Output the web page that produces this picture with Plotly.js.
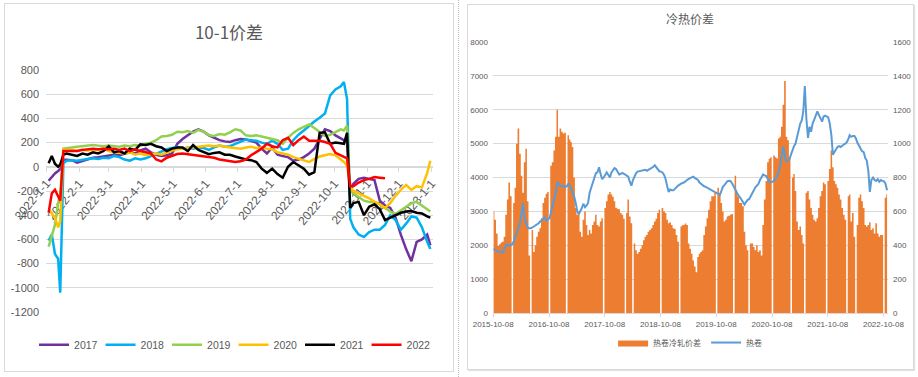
<!DOCTYPE html>
<html><head><meta charset="utf-8">
<script src="https://cdn.plot.ly/plotly-3.0.1.min.js"></script>
<style>
html,body{margin:0;padding:0;background:#fff;width:918px;height:377px;overflow:hidden;}
#p1{position:absolute;left:4px;top:3px;width:450px;height:369px;box-sizing:border-box;border:1px solid #d9d9d9;}
#p2{position:absolute;left:467px;top:4px;width:447px;height:366px;box-sizing:border-box;border:1px solid #d9d9d9;box-shadow:1px 1px 1px #e3e3e3;}
#sep{position:absolute;left:458px;top:0;width:0;height:377px;border-left:1px dotted #bdbdbd;}
#c1{position:absolute;left:0;top:0;width:448px;height:367px;}
#c2{position:absolute;left:0;top:0;width:445px;height:364px;}
</style></head><body>
<div id="p1"><div id="c1"></div></div>
<div id="sep"></div>
<div id="p2"><div id="c2"></div></div>
<script>
// ---------- Left chart: 10-1价差 ----------
const spreadDates = ["2022-01-03","2022-01-06","2022-01-09","2022-01-12","2022-01-14","2022-01-17","2022-01-20","2022-01-25","2022-01-30","2022-02-04","2022-02-09","2022-02-14","2022-02-19","2022-02-24","2022-03-01","2022-03-06","2022-03-11","2022-03-16","2022-03-21","2022-03-26","2022-03-31","2022-04-05","2022-04-10","2022-04-15","2022-04-20","2022-04-25","2022-04-30","2022-05-05","2022-05-10","2022-05-15","2022-05-20","2022-05-25","2022-05-30","2022-06-04","2022-06-09","2022-06-14","2022-06-19","2022-06-24","2022-06-29","2022-07-04","2022-07-09","2022-07-14","2022-07-19","2022-07-24","2022-07-29","2022-08-03","2022-08-08","2022-08-13","2022-08-18","2022-08-23","2022-08-28","2022-09-02","2022-09-07","2022-09-12","2022-09-17","2022-09-22","2022-09-27","2022-10-02","2022-10-07","2022-10-10","2022-10-13","2022-10-16","2022-10-19","2022-10-24","2022-10-29","2022-11-03","2022-11-08","2022-11-13","2022-11-18","2022-11-23","2022-11-28","2022-12-03","2022-12-08","2022-12-13","2022-12-18","2022-12-23","2022-12-28","2022-12-31"];
const s2017 = [-115,-85,-55,-35,-20,60,60,55,35, 50,65,75,80,85, 90,100,95,110,120,110,135, 150,120,100,90,95,110, 190,230,260,290,310,290, 260,240,220,210,205,220, 230,225,215,200,150,110, 160,100,90,80,50,60, 80,110,150,230,310,295, 260,235,220,195,-190,-140,-100,-90, -100,-110,-280,-320,-340,-420, -560,-680,-780,-620,-600,-560,-650];
const s2018 = [-610,-560,-720,-760,-1040,30,50,55,50, 60,65,70,65,75, 70,90,80,60,50,70,60, 70,90,110,130,145,155, 165,150,160,150,160,155, 140,160,175,165,170,190, 205,225,220,215,200,190, 215,190,140,150,220,265, 300,340,375,405,440,590, 640,665,700,560,-430,-500,-560,-580, -540,-520,-520,-480,-400,-440, -520,-470,-410,-420,-500,-620,-680];
const s2019 = [-660,-560,-480,-300,-230,150,155,160,165, 170,175,180,175,170, 175,170,165,175,170,180,175, 190,200,220,250,255,265, 290,285,295,280,305,290, 260,255,270,265,285,310, 300,260,255,260,250,240, 230,220,190,240,280,310, 330,350,320,290,255,265, 290,310,300,340,-200,-220,-250,-280, -290,-290,-310,-340,-370,-390, -360,-330,-300,-290,-320,-350,-370];
const s2020 = [-350,-390,-420,-500,-450,150,130,140,130, 140,135,145,140,150, 130,120,115,110,120,100,110, 95,105,110,100,120,135, 145,150,155,160,165,170, 175,170,175,165,160,150, 150,160,165,155,160,150, 145,120,110,100,80,65, 50,40,65,85,95,105, 95,60,40,10,-170,-200,-220,-240, -260,-290,-310,-340,-300,-240, -190,-150,-190,-160,-170,-50,50];
const s2021 = [30,90,25,0,20,100,110,100,90, 110,100,120,110,130, 170,120,130,110,150,140,185, 180,190,170,160,130,150, 160,160,130,180,140,120, 105,115,120,100,100,85, 70,60,55,40,-15,-50, -15,-60,-90,0,40,15, -15,-65,-45,280,285,190, 200,195,190,280,-340,-300,-290,-400, -330,-310,-350,-440,-420,-400, -380,-370,-365,-380,-385,-410,-420];
const s2022 = [-380,-220,-190,-240,-280,130,130,135,130, 140,145,150,145,150, 145,150,140,150,130,145,130, 120,110,60,45,75,90, 105,110,105,100,95,90, 85,75,60,55,45,40, 45,60,95,120,150,190, 170,160,220,240,180,220, 250,215,215,215,205,190, 115,95,85,70,-160,-160,-130,-110, -100,-85,-90,-95,null,null, null,null,null,null,null,null,null];
const seriesNames = ["2017","2018","2019","2020","2021","2022"];
const seriesColors = ["#7030A0","#00B0F0","#92D050","#FFC000","#000000","#FF0000"];
const yTickLabels1 = ["-1200","-1000","-800","-600","-400","-200","0","200","400","600","800"];

// ---------- Right chart: 冷热价差 ----------
const hrDates = [
"2015-10-11","2015-10-21","2015-11-01","2015-11-11","2015-11-21","2015-12-01","2015-12-11","2015-12-21",
"2016-01-01","2016-01-11","2016-01-21","2016-02-01","2016-02-11","2016-02-21","2016-03-01","2016-03-11","2016-03-21","2016-04-01","2016-04-11","2016-04-21","2016-05-01","2016-05-11","2016-05-21","2016-06-01","2016-06-11","2016-06-21","2016-07-01","2016-07-11","2016-07-21","2016-08-01","2016-08-11","2016-08-21","2016-09-01","2016-09-11","2016-09-21","2016-10-01","2016-10-11","2016-10-21","2016-11-01","2016-11-11","2016-11-21","2016-12-01","2016-12-11","2016-12-21",
"2017-01-01","2017-01-11","2017-01-21","2017-02-01","2017-02-11","2017-02-21","2017-03-01","2017-03-11","2017-03-21","2017-04-01","2017-04-11","2017-04-21","2017-05-01","2017-05-11","2017-05-21","2017-06-01","2017-06-11","2017-06-21","2017-07-01","2017-07-11","2017-07-21","2017-08-01","2017-08-11","2017-08-21","2017-09-01","2017-09-11","2017-09-21","2017-10-01","2017-10-11","2017-10-21","2017-11-01","2017-11-11","2017-11-21","2017-12-01","2017-12-11","2017-12-21",
"2018-01-01","2018-01-11","2018-01-21","2018-02-01","2018-02-11","2018-02-21","2018-03-01","2018-03-11","2018-03-21","2018-04-01","2018-04-11","2018-04-21","2018-05-01","2018-05-11","2018-05-21","2018-06-01","2018-06-11","2018-06-21","2018-07-01","2018-07-11","2018-07-21","2018-08-01","2018-08-11","2018-08-21","2018-09-01","2018-09-11","2018-09-21","2018-10-01","2018-10-11","2018-10-21","2018-11-01","2018-11-11","2018-11-21","2018-12-01","2018-12-11","2018-12-21",
"2019-01-01","2019-01-11","2019-01-21","2019-02-01","2019-02-11","2019-02-21","2019-03-01","2019-03-11","2019-03-21","2019-04-01","2019-04-11","2019-04-21","2019-05-01","2019-05-11","2019-05-21","2019-06-01","2019-06-11","2019-06-21","2019-07-01","2019-07-11","2019-07-21","2019-08-01","2019-08-11","2019-08-21","2019-09-01","2019-09-11","2019-09-21","2019-10-01","2019-10-11","2019-10-21","2019-11-01","2019-11-11","2019-11-21","2019-12-01","2019-12-11","2019-12-21",
"2020-01-01","2020-01-11","2020-01-21","2020-02-01","2020-02-11","2020-02-21","2020-03-01","2020-03-11","2020-03-21","2020-04-01","2020-04-11","2020-04-21","2020-05-01","2020-05-11","2020-05-21","2020-06-01","2020-06-11","2020-06-21","2020-07-01","2020-07-11","2020-07-21","2020-08-01","2020-08-11","2020-08-21","2020-09-01","2020-09-11","2020-09-21","2020-10-01","2020-10-11","2020-10-21","2020-11-01","2020-11-11","2020-11-21","2020-12-01","2020-12-11","2020-12-21",
"2021-01-01","2021-01-11","2021-01-21","2021-02-01","2021-02-11","2021-02-21","2021-03-01","2021-03-11","2021-03-21","2021-04-01","2021-04-11","2021-04-21","2021-05-01","2021-05-11","2021-05-21","2021-06-01","2021-06-11","2021-06-21","2021-07-01","2021-07-11","2021-07-21","2021-08-01","2021-08-11","2021-08-21","2021-09-01","2021-09-11","2021-09-21","2021-10-01","2021-10-11","2021-10-21","2021-11-01","2021-11-11","2021-11-21","2021-12-01","2021-12-11","2021-12-21",
"2022-01-01","2022-01-11","2022-01-21","2022-02-01","2022-02-11","2022-02-21","2022-03-01","2022-03-11","2022-03-21","2022-04-01","2022-04-11","2022-04-21","2022-05-01","2022-05-11","2022-05-21","2022-06-01","2022-06-11","2022-06-21","2022-07-01","2022-07-11","2022-07-21","2022-08-01","2022-08-11","2022-08-21","2022-09-01","2022-09-11","2022-09-21","2022-10-01","2022-10-11","2022-10-21","2022-11-01"];
// 热卷冷轧价差 (left axis)
const gap2015 = [3000,2750,2350,1980,2030,2080,2100,2250];
const gap2016 = [2900,3350,3850,3450,0,3250,3700,5000,5450,4700,4050,3550,4450,4850,3300,1700,0,2450,1800,2000,2250,2400,2500,2800,3250,3400,3520,3570,0,4350,4450,4800,5200,6000,5200,5450];
const gap2017 = [5350,5300,5320,0,5250,5120,5050,4900,4000,3100,2900,2950,2400,2250,2750,3000,2600,2300,2450,2350,2600,2700,2900,2600,2550,2700,2800,0,3100,3300,3500,3570,3500,3430,3300,3110];
const gap2018 = [3080,3060,2950,2900,2780,0,2950,3350,2850,2650,0,2050,1850,1750,1800,1900,2000,2150,2250,2300,2400,2450,2500,2600,2700,2780,2950,3050,0,3100,3000,2950,2750,2650,2680,2600];
const gap2019 = [2500,2480,2300,2100,0,2550,2590,2600,2640,2600,2050,1900,1750,1550,1370,1200,1650,1750,1800,1850,2300,2550,2800,3050,3300,3450,3450,3550,0,3700,3500,3250,3000,2700,2750,2850];
const gap2020 = [2870,2900,2920,0,4050,3550,3430,3250,3245,3150,2400,2000,1850,0,2050,2050,1950,1850,2000,1800,1850,1700,2600,3350,3900,4450,4550,4600,0,4650,4600,4560,5150,5200,5500,6150];
const gap2021 = [6850,5200,5100,4600,0,4000,4100,3600,2700,2450,2550,2300,2050,0,3550,3600,3350,3100,2900,2750,2700,2800,3100,3450,3600,3850,3800,0,3900,4250,4800,4300,3900,3800,3700,3500];
const gap2022 = [3350,3100,2900,2750,0,3450,3500,2700,2950,2250,0,2600,3400,3500,3300,3100,2600,2550,2600,2680,2450,2500,2350,2650,2350,2250,2300,2300,0,3400,3500];
// 热卷 (right axis)
const hot2015 = [378,372,368,362,362,358,357,380];
const hot2016 = [405,400,397,402,406,425,450,470,495,530,590,650,556,525,505,500,500,505,510,515,520,530,540,548,558,565,545,556,560,593,630,668,710,770,765,752];
const hot2017 = [748,750,745,748,762,755,735,720,690,650,600,585,600,620,645,625,635,650,710,740,770,800,825,830,860,820,790,800,820,830,815,800,830,845,855,850];
const hot2018 = [835,818,822,827,822,815,812,805,775,752,785,808,825,835,837,840,842,846,846,840,845,850,855,862,872,860,848,837,835,830,815,790,750,715,730,724];
const hot2019 = [724,735,745,752,758,765,768,770,775,785,792,795,800,805,798,792,785,770,762,755,748,745,740,735,730,726,720,716,712,705,698,720,745,755,770,778];
const hot2020 = [780,778,765,745,725,705,696,685,668,650,640,655,668,672,690,715,730,742,752,762,785,805,818,812,808,790,775,771,775,780,795,810,835,870,930,985];
const hot2021 = [920,895,900,912,940,968,985,1000,1045,1080,1118,1137,1190,1340,1150,1034,1100,1070,1118,1140,1165,1190,1170,1150,1130,1160,1165,1160,1156,1120,1050,935,955,965,980,985];
const hot2022 = [980,990,995,1000,1010,1030,1050,1040,1045,1045,1030,1005,990,970,955,950,915,900,840,715,785,800,785,780,790,775,785,780,778,765,725];

const gapValues = [].concat(gap2015,gap2016,gap2017,gap2018,gap2019,gap2020,gap2021,gap2022);
const hotValues = [].concat(hot2015,hot2016,hot2017,hot2018,hot2019,hot2020,hot2021,hot2022);

const numFont = "'Liberation Sans','Noto Sans CJK SC',sans-serif";
const cjkFont = "'Noto Sans CJK SC','Liberation Sans',sans-serif";
const grey = '#595959';

const allSeries = [s2017,s2018,s2019,s2020,s2021,s2022];
const traces1 = allSeries.map((s,i)=>({
  type:'scatter', mode:'lines', x:spreadDates, y:s, name:seriesNames[i],
  line:{color:seriesColors[i], width:2.5}, connectgaps:false, hoverinfo:'skip'
}));

const layout1 = {
  width:448, height:367,
  margin:{l:41, r:20, t:66, b:56, pad:0},
  paper_bgcolor:'#ffffff', plot_bgcolor:'#ffffff',
  title:{text:'10-1价差', font:{family:cjkFont, size:17, color:grey},
         x:0.5, xref:'container', xanchor:'center', y:1-29/367, yref:'container', yanchor:'middle'},
  showlegend:true,
  legend:{orientation:'h', x:1.0001, xanchor:'right', y:-0.135, yanchor:'middle',
          font:{family:numFont, size:10.5, color:grey}, entrywidth:21.5, entrywidthmode:'pixels', itemwidth:30},
  xaxis:{type:'date', range:['2021-12-31 12:00','2023-01-02 12:00'], anchor:'free', position:0.6,
         tick0:'2022-01-01', dtick:'M1', tickformat:'%Y-%-m-%-d', tickangle:-50,
         tickfont:{family:numFont, size:12, color:grey}, showgrid:false, zeroline:false,
         showline:true, linecolor:'#d9d9d9', linewidth:1, ticks:'outside', ticklen:4, tickcolor:'#d9d9d9',
         layer:'below traces', fixedrange:true, automargin:false},
  yaxis:{range:[-1200,800], tickmode:'array', tickvals:yTickLabels1.map(Number), ticktext:yTickLabels1,
         showgrid:true, gridcolor:'#d9d9d9', gridwidth:1, zeroline:false, showline:false, ticks:'',
         tickfont:{family:numFont, size:11, color:grey}, ticklabelstandoff:6, fixedrange:true, automargin:false},
  hovermode:false
};

const traces2 = [
  {type:'scatter', mode:'lines', x:hrDates, y:gapValues, name:'热卷冷轧价差', fill:'tozeroy',
   fillcolor:'#ED7D31', line:{color:'#ED7D31', width:0, shape:'hvh'}, hoverinfo:'skip'},
  {type:'scatter', mode:'lines', x:hrDates, y:hotValues, name:'热卷', yaxis:'y2',
   line:{color:'#5B9BD5', width:2}, hoverinfo:'skip'}
];

const layout2 = {
  width:445, height:364,
  margin:{l:25, r:25, t:37, b:43, pad:0},
  paper_bgcolor:'#ffffff', plot_bgcolor:'#ffffff',
  title:{text:'冷热价差', font:{family:cjkFont, size:12, color:grey},
         x:0.499, xref:'container', xanchor:'center', y:1-15/364, yref:'container', yanchor:'middle'},
  showlegend:true,
  legend:{orientation:'h', x:0.499, xanchor:'center', y:-0.109, yanchor:'middle',
          font:{family:cjkFont, size:8, color:grey}},
  xaxis:{type:'date', range:['2015-10-07','2022-11-07'], tick0:'2015-10-08', dtick:'M12', tickformat:'%Y-%m-%d',
         tickangle:0, tickfont:{family:numFont, size:8, color:grey}, showgrid:false, zeroline:false,
         showline:true, linecolor:'#d9d9d9', ticks:'outside', ticklen:3, tickcolor:'#d9d9d9', fixedrange:true, automargin:false},
  yaxis:{range:[0,8000], dtick:1000, showgrid:true, gridcolor:'#d9d9d9', zeroline:false, showline:false, ticks:'',
         tickfont:{family:numFont, size:8, color:grey}, ticklabelstandoff:4, fixedrange:true, automargin:false},
  yaxis2:{range:[0,1600], dtick:200, overlaying:'y', side:'right', showgrid:false, zeroline:false, showline:false, ticks:'',
          tickfont:{family:numFont, size:8, color:grey}, ticklabelstandoff:4, fixedrange:true, automargin:false},
  hovermode:false
};

const cfg = {displayModeBar:false, staticPlot:true};
Plotly.newPlot('c1', traces1, layout1, cfg);
Plotly.newPlot('c2', traces2, layout2, cfg);
</script></body></html>
